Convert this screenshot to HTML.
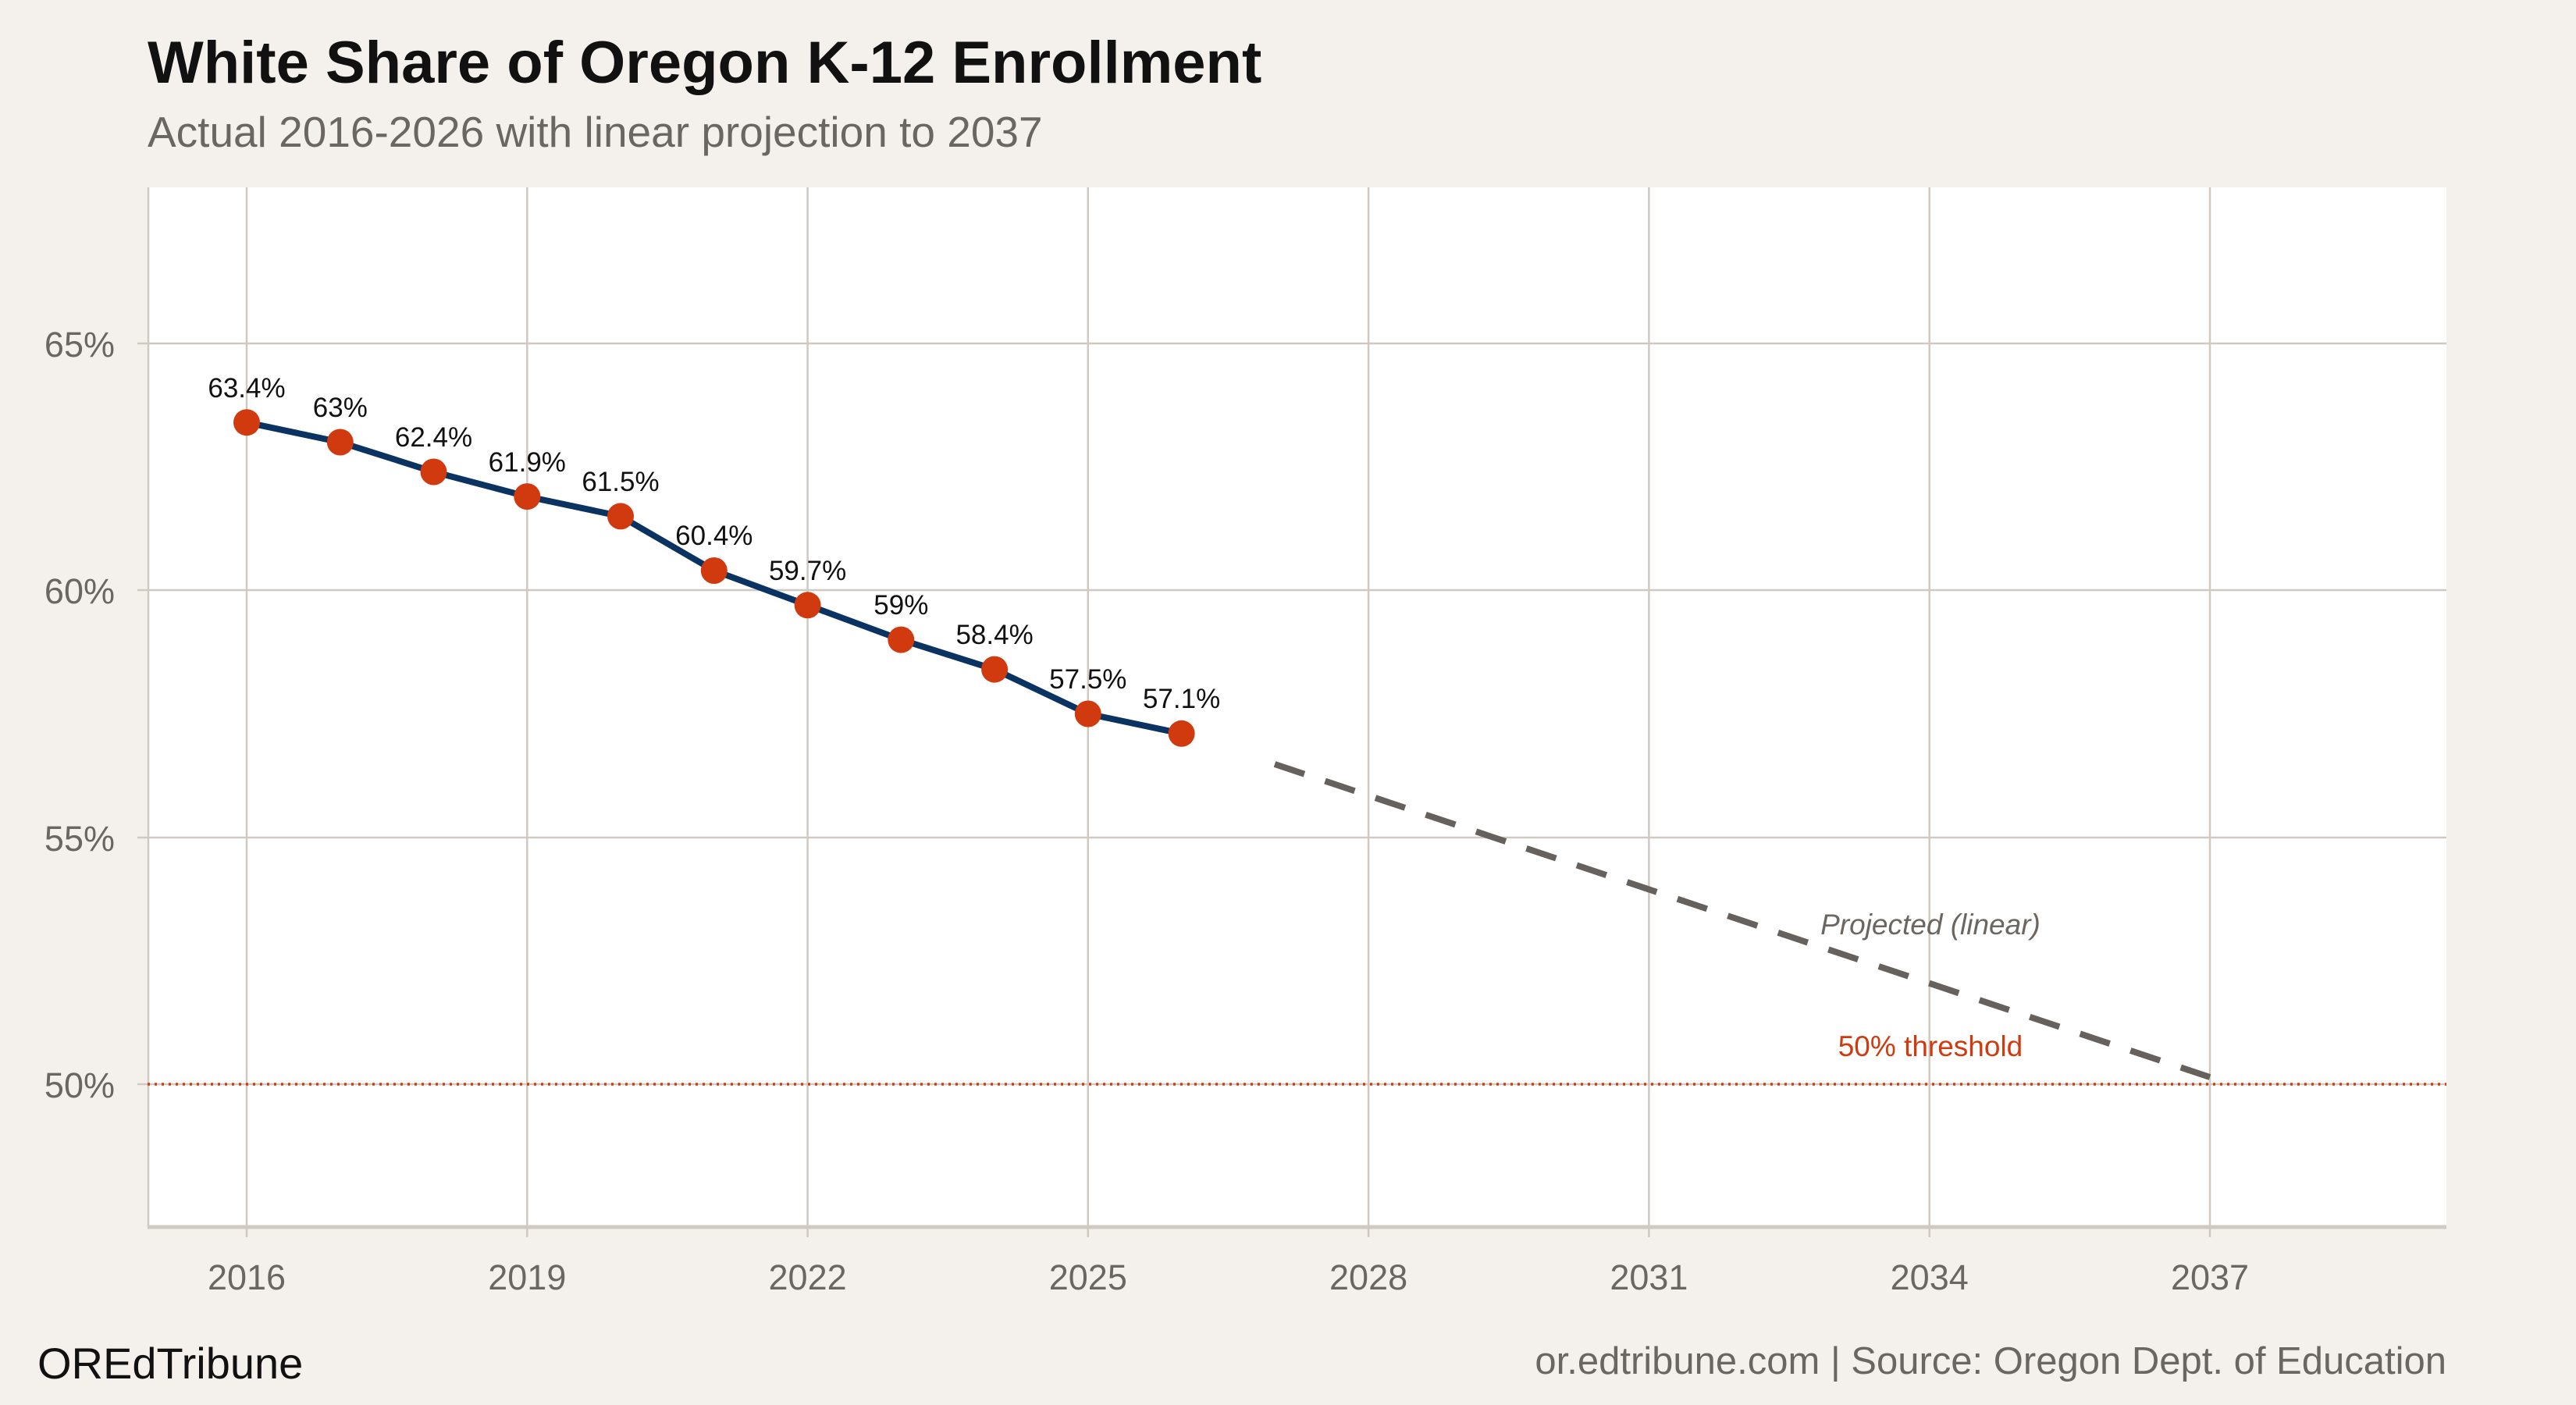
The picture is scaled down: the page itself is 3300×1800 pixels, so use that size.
<!DOCTYPE html>
<html><head><meta charset="utf-8"><style>html,body{margin:0;padding:0;background:#f4f1ec}svg{display:block}</style></head>
<body>
<svg width="3300" height="1800" viewBox="0 0 3300 1800" xmlns="http://www.w3.org/2000/svg" font-family="Liberation Sans, sans-serif">
<rect width="3300" height="1800" fill="#f4f1ec"/>
<text x="189" y="106" font-size="76" font-weight="bold" fill="#111">White Share of Oregon K-12 Enrollment</text>
<text x="189" y="188" font-size="55" fill="#6b6661">Actual 2016-2026 with linear projection to 2037</text>
<rect x="189" y="240" width="2945" height="1332" fill="#fff"/>
<g stroke="#cfc9c1" stroke-width="2.5">
<line x1="316" y1="240" x2="316" y2="1585"/><line x1="675.3" y1="240" x2="675.3" y2="1585"/>
<line x1="1034.6" y1="240" x2="1034.6" y2="1585"/><line x1="1393.8" y1="240" x2="1393.8" y2="1585"/>
<line x1="1753.1" y1="240" x2="1753.1" y2="1585"/><line x1="2112.4" y1="240" x2="2112.4" y2="1585"/>
<line x1="2471.7" y1="240" x2="2471.7" y2="1585"/><line x1="2831" y1="240" x2="2831" y2="1585"/>
<line x1="176" y1="440" x2="3134" y2="440"/><line x1="176" y1="756" x2="3134" y2="756"/>
<line x1="176" y1="1073" x2="3134" y2="1073"/><line x1="176" y1="1389" x2="3134" y2="1389"/>
<line x1="190" y1="240" x2="190" y2="1572"/>
</g>
<line x1="189" y1="1572" x2="3134" y2="1572" stroke="#cfc9c1" stroke-width="5"/>
<line x1="189" y1="1389" x2="3134" y2="1389" stroke="#d13a0e" stroke-width="3.5" stroke-dasharray="3,6"/>
<g font-size="45" fill="#6b6661" text-anchor="end">
<text x="147" y="457">65%</text><text x="147" y="773">60%</text><text x="147" y="1090">55%</text><text x="147" y="1406">50%</text></g>
<g font-size="45" fill="#6b6661" text-anchor="middle">
<text x="316" y="1652">2016</text><text x="675.3" y="1652">2019</text><text x="1034.6" y="1652">2022</text><text x="1393.8" y="1652">2025</text>
<text x="1753.1" y="1652">2028</text><text x="2112.4" y="1652">2031</text><text x="2471.7" y="1652">2034</text><text x="2831" y="1652">2037</text></g>
<line x1="1633" y1="979" x2="2831" y2="1380" stroke="#66615c" stroke-width="8" stroke-dasharray="40,28"/>
<polyline fill="none" stroke="#0b3361" stroke-width="8" stroke-linejoin="round" points="316,541.2 435.8,566.5 555.5,604.5 675.3,636.1 795,661.4 914.8,731 1034.6,775.3 1154.3,819.6 1274.1,857.6 1393.8,914.5 1513.6,939.8"/>
<g fill="#d13a0e">
<circle cx="316" cy="541.2" r="17"/><circle cx="435.8" cy="566.5" r="17"/><circle cx="555.5" cy="604.5" r="17"/><circle cx="675.3" cy="636.1" r="17"/><circle cx="795" cy="661.4" r="17"/><circle cx="914.8" cy="731" r="17"/><circle cx="1034.6" cy="775.3" r="17"/><circle cx="1154.3" cy="819.6" r="17"/><circle cx="1274.1" cy="857.6" r="17"/><circle cx="1393.8" cy="914.5" r="17"/><circle cx="1513.6" cy="939.8" r="17"/></g>
<g font-size="35" fill="#111" text-anchor="middle">
<text x="316" y="509">63.4%</text><text x="435.8" y="534">63%</text><text x="555.5" y="572">62.4%</text><text x="675.3" y="604">61.9%</text><text x="795" y="629">61.5%</text><text x="914.8" y="698">60.4%</text><text x="1034.6" y="743">59.7%</text><text x="1154.3" y="787">59%</text><text x="1274.1" y="825">58.4%</text><text x="1393.8" y="882">57.5%</text><text x="1513.6" y="907">57.1%</text></g>
<text x="2473" y="1197" font-size="37" font-style="italic" fill="#6b6661" text-anchor="middle">Projected (linear)</text>
<text x="2473" y="1353" font-size="37" fill="#d13a0e" text-anchor="middle">50% threshold</text>
<text x="48" y="1766" font-size="56" fill="#111">OREdTribune</text>
<text x="3134" y="1760" font-size="49" fill="#6b6661" text-anchor="end">or.edtribune.com | Source: Oregon Dept. of Education</text>
</svg>
</body></html>
